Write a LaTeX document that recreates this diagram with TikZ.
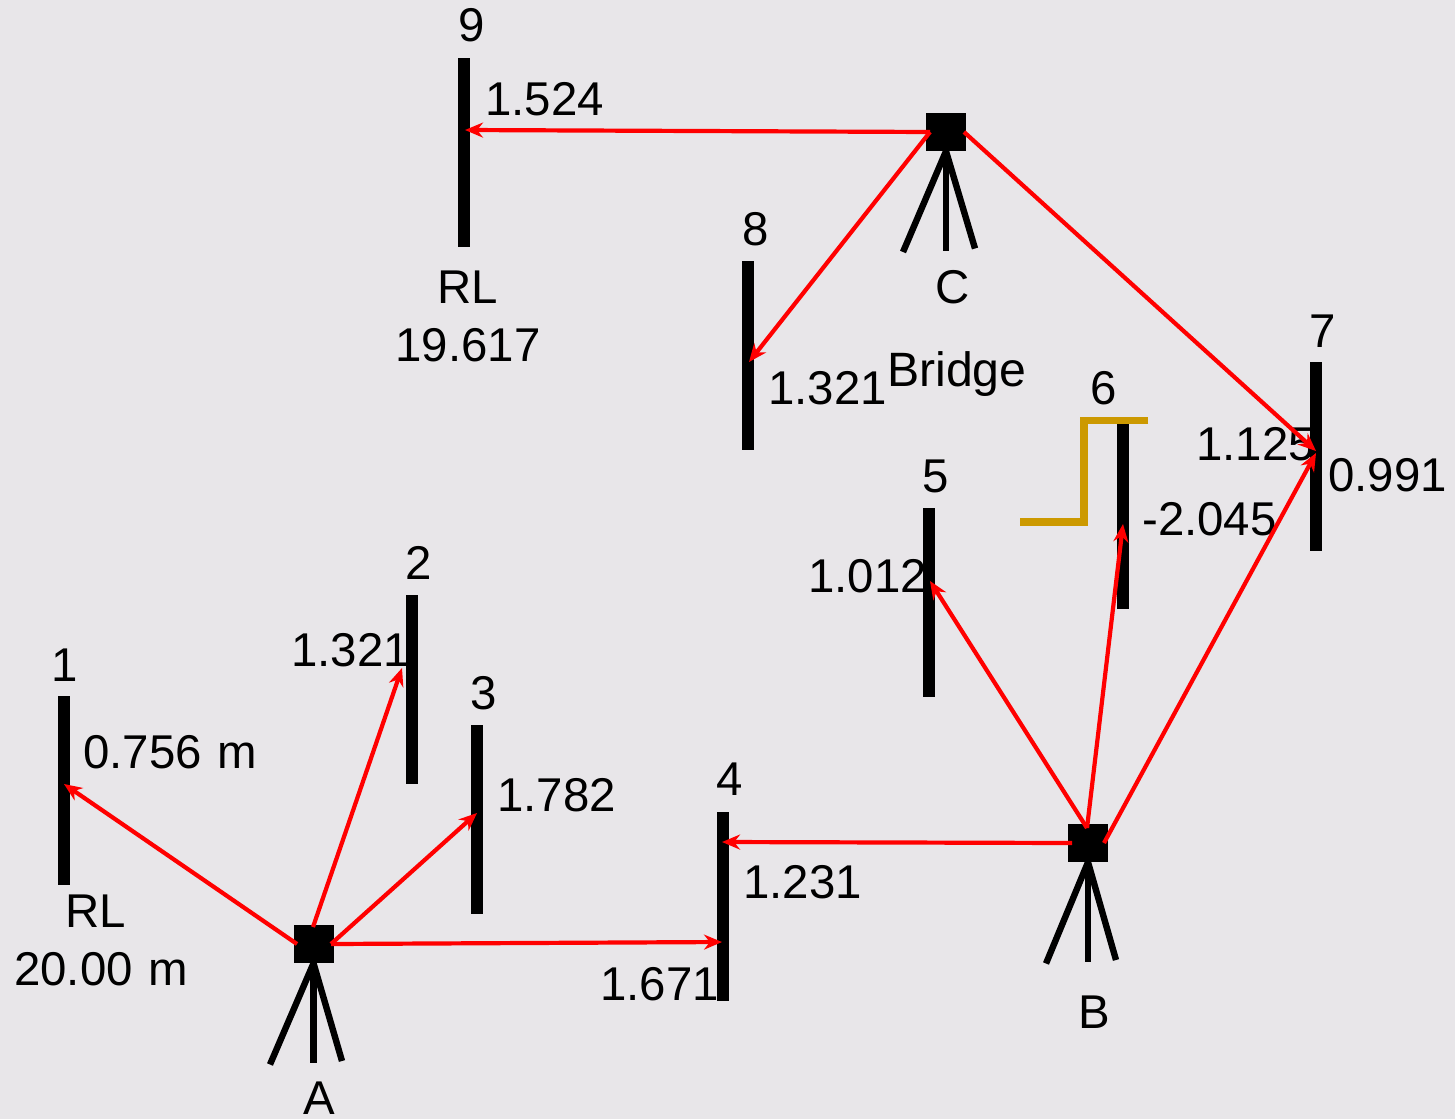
\documentclass[tikz,border=0pt]{standalone}
\usepackage{fontspec}
\setmainfont{Liberation Sans}
\usetikzlibrary{arrows.meta}
\definecolor{bgc}{RGB}{232, 230, 233}
\definecolor{bridgec}{RGB}{204, 153, 0}
\tikzset{
	staff/.style={
		rectangle, inner sep=0pt, minimum width=12pt, minimum height=189pt, fill=black
	},
	%
	level/.style={
		rectangle, inner sep=0pt, minimum width=40pt, minimum height=38pt, fill=black
	},
	%
	leg/.style={
		line width=6.4pt, black
	},
	%
	sight/.style={
		-{Stealth[length=18pt,width=15pt]}, line width=4.2pt, red
	},
	%
	mylabel/.style={
		inner sep=0pt, anchor=base, font=\fontsize{47.4}{50}\selectfont
	},
	%
	myleft/.style={
		mylabel, anchor=base west
	}
}

\begin{document}
\begin{tikzpicture}[x=1pt, y=-1pt]
\fill[bgc] (0,0) rectangle (1455,1119);

\node(staff1)[staff] at (64,790.5){};
\node(staff2)[staff] at (412,689){};
\node(staff3)[staff] at (477,819.5){};
\node(staff4)[staff] at (722.5,906.5){};
\node(staff5)[staff] at (929,602){};
\node(staff6)[staff, minimum height=185pt] at (1122.5,516.5){};
\node(staff7)[staff] at (1316,456.5){};
\node(staff8)[staff] at (748,355.5){};
\node(staff9)[staff] at (464,152.5){};

\node(levelA)[level] at (313.5,944){};
\node(levelB)[level] at (1088,843){};
\node(levelC)[level] at (946,132){};

% tripods
\coordinate(footA1) at (270,1064.5);
\coordinate(footA2) at (313.5,1062.5);
\coordinate(footA3) at (342,1061);
\coordinate(footB1) at (1046,963.5);
\coordinate(footB2) at (1088,961.5);
\coordinate(footB3) at (1116,960);
\coordinate(footC1) at (903,252);
\coordinate(footC2) at (946,250.5);
\coordinate(footC3) at (975,248.5);
\foreach \l in {A,B,C}{
	\foreach \f in {1,2,3}{
		\draw[leg] (level\l.south) -- (foot\l\f);
	}
}

% bridge
\coordinate(bridge1) at (1148,420.5);
\coordinate(bridge2) at (1084,420.5);
\coordinate(bridge3) at (1084,522);
\coordinate(bridge4) at (1020,522);
\draw[line width=7.5pt, bridgec] (bridge1) -- (bridge2) -- (bridge3) -- (bridge4);

\node(num1)[mylabel] at (65,681){1};
\node(num2)[mylabel] at (419,579){2};
\node(num3)[mylabel] at (484,709){3};
\node(num4)[mylabel] at (730,795){4};
\node(num5)[mylabel] at (936,492){5};
\node(num6)[mylabel] at (1104,404){6};
\node(num7)[mylabel] at (1323,347){7};
\node(num8)[mylabel] at (756,245){8};
\node(num9)[mylabel] at (472,41){9};

\node(read1)[myleft] at (83,768){0.756\hspace{3pt} m};
\node(read2)[myleft] at (291,666){1.321};
\node(read3)[myleft] at (497,811){1.782};
\node(read4a)[myleft] at (600,1000){1.671};
\node(read4b)[myleft] at (743,898){1.231};
\node(read5)[myleft] at (808,592){1.012};
\node(read6)[myleft] at (1142,535){-2.045};
\node(read7a)[myleft] at (1196,460){1.125};
\node(read7b)[myleft] at (1328,491){0.991};
\node(read8)[myleft] at (768,404){1.321};
\node(read9)[myleft] at (485,115){1.524};

\node(rl1a)[mylabel] at (96,927){RL};
\node(rl1b)[myleft] at (14,985){20.00\hspace{3pt} m};
\node(rl9a)[mylabel] at (468,303){RL};
\node(rl9b)[mylabel] at (468,361){19.617};
\node(bridge)[myleft, font=\fontsize{48.2}{50}\selectfont] at (887,386){Bridge};

\node(nameA)[mylabel] at (319,1114){A};
\node(nameB)[mylabel] at (1094,1028){B};
\node(nameC)[mylabel] at (953,303){C};

% sights start inside the level and stop on the staff
\coordinate(fromA1) at (297,944);
\coordinate(fromA2) at (313,927);
\coordinate(fromA3) at (331,944);
\coordinate(fromB1) at (1072,843);
\coordinate(fromB2) at (1087,828);
\coordinate(fromB3) at (1104,843);
\coordinate(fromC1) at (930,132);
\coordinate(fromC2) at (964,132);
\coordinate(hit1) at (64,784);
\coordinate(hit2) at (402,668);
\coordinate(hit3) at (477,813);
\coordinate(hit4a) at (722,942);
\coordinate(hit4b) at (722,842);
\coordinate(hit5) at (930,581);
\coordinate(hit6) at (1123,524);
\coordinate(hit7a) at (1316,451);
\coordinate(hit7b) at (1316,453);
\coordinate(hit8) at (749,362);
\coordinate(hit9) at (465,130);

\draw[sight] (fromA1) -- (hit1);
\draw[sight] (fromA2) -- (hit2);
\draw[sight] (fromA3) -- (hit3);
\draw[sight] (fromA3) -- (hit4a);
\draw[sight] (fromB1) -- (hit4b);
\draw[sight] (fromB2) -- (hit5);
\draw[sight] (fromB2) -- (hit6);
\draw[sight] (fromB3) -- (hit7b);
\draw[sight] (fromC1) -- (hit9);
\draw[sight] (fromC1) -- (hit8);
\draw[sight] (fromC2) -- (hit7a);
\end{tikzpicture}
\end{document}
